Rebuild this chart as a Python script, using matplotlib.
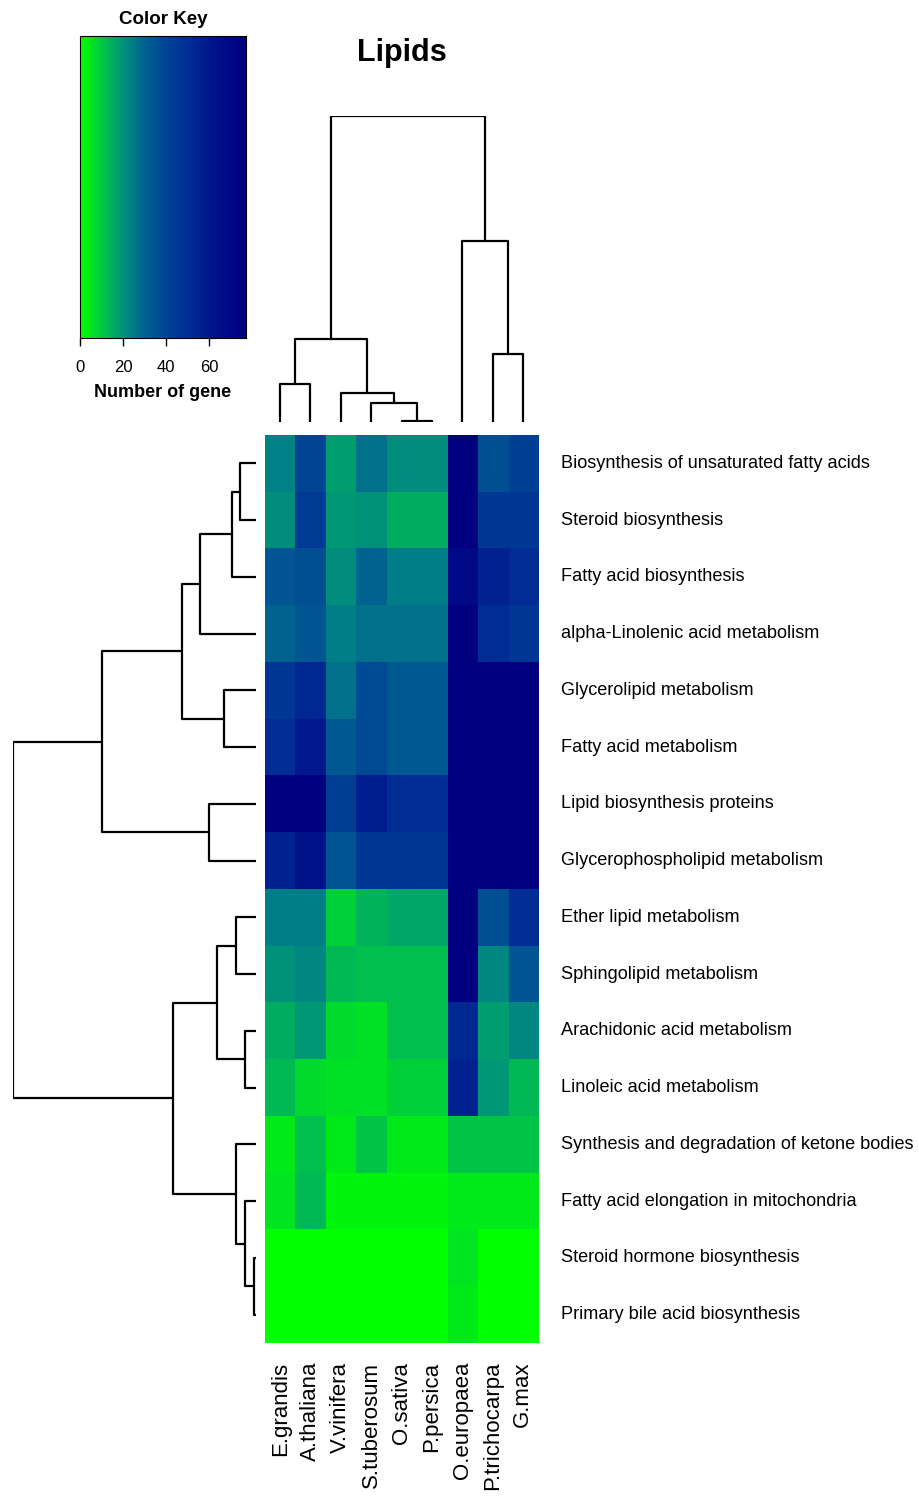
import numpy as np
import matplotlib
matplotlib.use('Agg')
import matplotlib.pyplot as plt
from matplotlib.colors import LinearSegmentedColormap

plt.rcParams['font.family'] = ['Liberation Sans', 'DejaVu Sans']

# pathways (rows, top to bottom) and species (columns, left to right) in dendrogram order
pathways = ['Biosynthesis of unsaturated fatty acids', 'Steroid biosynthesis',
            'Fatty acid biosynthesis', 'alpha-Linolenic acid metabolism',
            'Glycerolipid metabolism', 'Fatty acid metabolism',
            'Lipid biosynthesis proteins', 'Glycerophospholipid metabolism',
            'Ether lipid metabolism', 'Sphingolipid metabolism',
            'Arachidonic acid metabolism', 'Linoleic acid metabolism',
            'Synthesis and degradation of ketone bodies',
            'Fatty acid elongation in mitochondria',
            'Steroid hormone biosynthesis', 'Primary bile acid biosynthesis']
species = ['E.grandis', 'A.thaliana', 'V.vinifera', 'S.tuberosum', 'O.sativa',
           'P.persica', 'O.europaea', 'P.trichocarpa', 'G.max']

# number of genes per pathway / species
genes = np.array([
    [23, 40, 18, 27, 21, 21, 77, 36, 42],
    [21, 44, 19, 20, 15, 15, 77, 46, 46],
    [34, 36, 21, 30, 24, 24, 70, 55, 50],
    [30, 34, 24, 27, 27, 27, 77, 50, 46],
    [46, 52, 27, 38, 33, 33, 77, 77, 77],
    [50, 60, 33, 38, 33, 33, 77, 77, 77],
    [77, 77, 42, 57, 50, 50, 77, 77, 77],
    [55, 63, 34, 46, 46, 46, 77, 77, 77],
    [24, 24,  9, 14, 16, 16, 77, 36, 50],
    [20, 22, 13, 12, 12, 12, 77, 22, 34],
    [15, 19,  7,  6, 12, 12, 52, 18, 22],
    [13,  7,  6,  6,  9,  9, 55, 19, 13],
    [ 4, 12,  4, 11,  4,  4, 11, 11, 11],
    [ 5, 13,  2,  2,  2,  2,  4,  4,  4],
    [ 0,  0,  0,  0,  0,  0,  5,  0,  0],
    [ 0,  0,  0,  0,  0,  0,  4,  0,  0],
])
key_max = 77
key_ticks = [0, 20, 40, 60]

# hierarchical clustering merges: (left, right, height); ids >= n refer to earlier merges
row_merges = [(0, 1, 16), (16, 2, 24), (17, 3, 56), (4, 5, 32), (18, 19, 74),
              (6, 7, 47), (20, 21, 154), (8, 9, 20), (10, 11, 11), (23, 24, 39),
              (14, 15, 2), (13, 26, 11), (12, 27, 20), (25, 28, 83), (22, 29, 243)]
col_merges = [(0, 1, 38), (4, 5, 0.7), (3, 10, 19), (2, 11, 29), (9, 12, 83),
              (7, 8, 68), (6, 14, 181), (13, 15, 306)]

cmap = LinearSegmentedColormap.from_list('gene', [
    (0.00, (0/255, 255/255, 0/255)),
    (0.10, (0/255, 215/255, 50/255)),
    (0.20, (0/255, 170/255, 100/255)),
    (0.30, (0/255, 130/255, 135/255)),
    (0.40, (0/255, 95/255, 145/255)),
    (0.50, (0/255, 72/255, 148/255)),
    (0.65, (0/255, 45/255, 148/255)),
    (0.80, (0/255, 20/255, 140/255)),
    (1.00, (0/255, 0/255, 128/255)),
])


def dendro(ax, merges, n, orient):
    # leaf positions are cell centres; each merge drawn as a bracket
    pos = {i: i + 0.5 for i in range(n)}
    hgt = {i: 0.0 for i in range(n)}
    for k, (a, b, h) in enumerate(merges):
        pa, pb = pos[a], pos[b]
        ha, hb = hgt[a], hgt[b]
        xs = [ha, h, h, hb]
        ys = [pa, pa, pb, pb]
        if orient == 'left':
            ax.plot(xs, ys, color='black', lw=1.6, solid_capstyle='butt')
        else:
            ax.plot(ys, xs, color='black', lw=1.6, solid_capstyle='butt')
        pos[n + k] = (pa + pb) / 2
        hgt[n + k] = h


W, H = 920, 1497
fig = plt.figure(figsize=(W / 100, H / 100), dpi=100)


def box(x0, y0, x1, y1):
    return [x0 / W, 1 - y1 / H, (x1 - x0) / W, (y1 - y0) / H]


nr, nc = genes.shape

# heatmap
ax = fig.add_axes(box(265, 435, 538, 1343))
ax.imshow(genes, cmap=cmap, vmin=0, vmax=key_max, aspect='auto',
          interpolation='nearest', extent=(0, nc, nr, 0))
ax.set_xlim(0, nc)
ax.set_ylim(nr, 0)
ax.set_xticks([])
ax.set_yticks([])
for s in ax.spines.values():
    s.set_visible(False)
for i, name in enumerate(pathways):
    ax.text(nc + 0.75, i + 0.5, name, ha='left', va='center', fontsize=13.1)
for j, name in enumerate(species):
    ax.text(j + 0.5, nr + 0.33, name, ha='center', va='top', rotation=90,
            fontsize=16)

# row dendrogram
axr = fig.add_axes(box(13, 435, 256, 1343))
dendro(axr, row_merges, nr, 'left')
axr.set_xlim(243, 0)
axr.set_ylim(nr, 0)
axr.axis('off')

# column dendrogram
axc = fig.add_axes(box(265, 116, 538, 422))
dendro(axc, col_merges, nc, 'top')
axc.set_xlim(0, nc)
axc.set_ylim(0, 306)
axc.axis('off')

# colour key
axk = fig.add_axes(box(80, 36, 246, 338))
grad = np.linspace(0, key_max, 256)[None, :]
axk.imshow(grad, cmap=cmap, vmin=0, vmax=key_max, aspect='auto',
           extent=(0, key_max, 0, 1))
axk.set_xlim(0, key_max)
axk.set_ylim(0, 1)
axk.set_yticks([])
axk.set_xticks(key_ticks)
axk.tick_params(axis='x', direction='out', length=6, width=1, pad=10, labelsize=12)
for s in axk.spines.values():
    s.set_linewidth(0.8)
axk.set_title('Color Key', fontsize=13.5, fontweight='bold', pad=9)
axk.set_xlabel('Number of gene', fontsize=13, fontweight='bold', labelpad=6)

fig.text(402 / W, 1 - 53 / H, 'Lipids', ha='center', va='center',
         fontsize=22, fontweight='bold')

fig.savefig('out.png', dpi=100)
